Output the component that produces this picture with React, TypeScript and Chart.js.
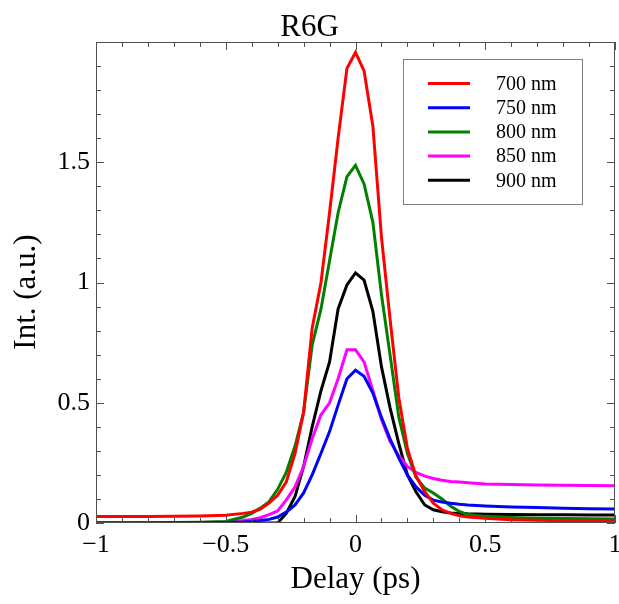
import { useEffect, useRef } from "react";
import { Chart, registerables } from "chart.js";

Chart.register(...registerables);

// Delay axis (ps)
const DELAY = [
  -1, -0.9, -0.8, -0.7, -0.6, -0.5,
  -0.433, -0.4, -0.367, -0.333, -0.3, -0.267, -0.233, -0.2, -0.167, -0.133, -0.1, -0.067, -0.033,
  0,
  0.033, 0.067, 0.1, 0.133, 0.167, 0.2, 0.233, 0.267, 0.3, 0.333, 0.367, 0.4, 0.433,
  0.5, 0.6, 0.7, 0.8, 0.9, 1,
];

const NM700 = [
  0.027, 0.027, 0.027, 0.028, 0.029, 0.032,
  0.04, 0.045, 0.058, 0.083, 0.115, 0.17, 0.29, 0.46, 0.81, 1.0, 1.29, 1.6, 1.89,
  1.957,
  1.88, 1.65, 1.19, 0.85, 0.52, 0.31, 0.195, 0.13, 0.082, 0.055, 0.04, 0.03, 0.025,
  0.02, 0.014, 0.011, 0.009, 0.008, 0.007,
];

const NM750 = [
  0, 0, 0, 0.001, 0.001, 0.002,
  0.004, 0.006, 0.01, 0.015, 0.025, 0.045, 0.075, 0.125, 0.2, 0.29, 0.38, 0.49, 0.6,
  0.635,
  0.61, 0.54, 0.44, 0.35, 0.27, 0.2, 0.15, 0.115, 0.095, 0.087, 0.082, 0.078, 0.075,
  0.071, 0.067, 0.064, 0.061, 0.059, 0.058,
];

const NM800 = [
  0, 0, 0.001, 0.002, 0.003, 0.006,
  0.025, 0.04, 0.062, 0.089, 0.14, 0.21, 0.32, 0.46, 0.74, 0.89, 1.09, 1.29, 1.44,
  1.487,
  1.41, 1.25, 0.95, 0.7, 0.44, 0.29, 0.19, 0.145, 0.125, 0.1, 0.07, 0.048, 0.035,
  0.027, 0.023, 0.02, 0.019, 0.018, 0.017,
];

const NM850 = [
  0, 0, 0, 0.001, 0.002, 0.004,
  0.01, 0.015, 0.022, 0.035, 0.05, 0.095, 0.15, 0.235, 0.35, 0.45, 0.5, 0.6, 0.72,
  0.72,
  0.67, 0.55, 0.43, 0.34, 0.28, 0.235, 0.21, 0.195, 0.185, 0.178, 0.173, 0.17, 0.167,
  0.162, 0.16, 0.158, 0.157, 0.156, 0.155,
];

const NM900 = [
  0, 0, 0, 0, 0, 0,
  0, 0, 0, 0, 0, 0.04, 0.11, 0.235, 0.4, 0.55, 0.67, 0.89, 0.99,
  1.04,
  1.01, 0.88, 0.65, 0.48, 0.33, 0.2, 0.13, 0.075, 0.055, 0.047, 0.042, 0.04, 0.038,
  0.036, 0.035, 0.034, 0.034, 0.033, 0.033,
];

const SERIES_LABELS = ["700 nm", "750 nm", "800 nm", "850 nm", "900 nm"];
const SERIES_COLORS = ["#ff0000", "#0000ff", "#008000", "#ff00ff", "#000000"];
const SERIES_VALUES = [NM700, NM750, NM800, NM850, NM900];

const X_TICKS = [-1, -0.5, 0, 0.5, 1];
const Y_TICKS = [0, 0.5, 1, 1.5];
const X_RANGE = [-1, 1];
const Y_RANGE = [0, 2];
const MINOR_STEP = 0.1;

const TITLE = "R6G";
const X_TITLE = "Delay (ps)";
const Y_TITLE = "Int. (a.u.)";

const FONT = "'Liberation Serif', 'Times New Roman', serif";

const fmt = (v: number) => (v < 0 ? "\u2212" + String(Math.abs(v)) : String(v));

const decorPlugin = {
  id: "decor",
  afterDraw(chart: any) {
    const ctx = chart.ctx as CanvasRenderingContext2D;
    const { left, right, top, bottom } = chart.chartArea;
    const xs = chart.scales.x;
    const ys = chart.scales.y;
    ctx.save();
    // frame
    ctx.strokeStyle = "#505050";
    ctx.lineWidth = 1;
    ctx.strokeRect(left + 0.5, top + 0.5, right - left - 1, bottom - top - 1);
    // inward ticks on all four sides
    const MAJ = 8;
    const MIN = 5;
    const isMajor = (v: number, arr: number[]) => arr.some((t) => Math.abs(t - v) < 1e-6);
    ctx.beginPath();
    const nx = Math.round((X_RANGE[1] - X_RANGE[0]) / MINOR_STEP);
    for (let i = 0; i <= nx; i++) {
      const v = X_RANGE[0] + i * MINOR_STEP;
      const px = Math.round(xs.getPixelForValue(v)) + 0.5;
      const len = isMajor(v, X_TICKS) ? MAJ : MIN;
      ctx.moveTo(px, bottom);
      ctx.lineTo(px, bottom - len);
      ctx.moveTo(px, top);
      ctx.lineTo(px, top + len);
    }
    const ny = Math.round((Y_RANGE[1] - Y_RANGE[0]) / MINOR_STEP);
    for (let i = 0; i <= ny; i++) {
      const v = Y_RANGE[0] + i * MINOR_STEP;
      const py = Math.round(ys.getPixelForValue(v)) + 0.5;
      const len = isMajor(v, Y_TICKS) ? MAJ : MIN;
      ctx.moveTo(left, py);
      ctx.lineTo(left + len, py);
      ctx.moveTo(right, py);
      ctx.lineTo(right - len, py);
    }
    ctx.stroke();

    // titles
    ctx.fillStyle = "#000";
    ctx.textAlign = "center";
    ctx.textBaseline = "middle";
    ctx.font = `31px ${FONT}`;
    ctx.fillText(TITLE, chart.width / 2, 28);
    ctx.fillText(X_TITLE, (left + right) / 2, 580);
    ctx.save();
    ctx.translate(27, 292);
    ctx.rotate(-Math.PI / 2);
    ctx.fillText(Y_TITLE, 0, 0);
    ctx.restore();

    // legend
    const bx = 403, by = 59, bw = 179, bh = 145;
    ctx.fillStyle = "#fff";
    ctx.fillRect(bx, by, bw, bh);
    ctx.strokeStyle = "#808080";
    ctx.lineWidth = 1;
    ctx.strokeRect(bx + 0.5, by + 0.5, bw, bh);
    ctx.font = `20px ${FONT}`;
    ctx.textAlign = "left";
    chart.data.datasets.forEach((ds: any, i: number) => {
      const y = 83.5 + i * 24.2;
      ctx.strokeStyle = ds.borderColor;
      ctx.lineWidth = 3;
      ctx.beginPath();
      ctx.moveTo(428, y);
      ctx.lineTo(470, y);
      ctx.stroke();
      ctx.fillStyle = "#000";
      ctx.fillText(ds.label, 496, y + 1);
    });
    ctx.restore();
  },
};

export default function App() {
  const ref = useRef<HTMLCanvasElement | null>(null);
  useEffect(() => {
    if (!ref.current) return;
    const datasets = SERIES_VALUES.map((vals, i) => ({
      label: SERIES_LABELS[i],
      data: DELAY.map((x, j) => ({ x, y: vals[j] })),
      borderColor: SERIES_COLORS[i],
      backgroundColor: SERIES_COLORS[i],
      borderWidth: 3,
      pointRadius: 0,
      tension: 0,
      fill: false,
    }));
    const chart = new Chart(ref.current, {
      type: "line",
      data: { datasets },
      plugins: [decorPlugin],
      options: {
        responsive: false,
        animation: false,
        layout: { padding: { top: 42, right: 4, left: 0, bottom: 0 } },
        plugins: { legend: { display: false }, tooltip: { enabled: false }, title: { display: false } },
        scales: {
          x: {
            type: "linear",
            min: X_RANGE[0],
            max: X_RANGE[1],
            grid: { display: false, drawTicks: false },
            border: { display: false },
            afterBuildTicks: (scale: any) => {
              scale.ticks = X_TICKS.map((v) => ({ value: v }));
            },
            afterFit: (scale: any) => {
              scale.height = 81;
              scale.paddingLeft = 0;
              scale.paddingRight = 0;
            },
            ticks: {
              autoSkip: false,
              maxRotation: 0,
              padding: 7,
              color: "#000",
              font: { family: FONT, size: 26 },
              callback: (v: any) => fmt(Number(v)),
            },
          },
          y: {
            type: "linear",
            min: Y_RANGE[0],
            max: Y_RANGE[1],
            grid: { display: false, drawTicks: false },
            border: { display: false },
            afterBuildTicks: (scale: any) => {
              scale.ticks = Y_TICKS.map((v) => ({ value: v }));
            },
            afterFit: (scale: any) => {
              scale.width = 96;
              scale.paddingTop = 0;
              scale.paddingBottom = 0;
            },
            ticks: {
              autoSkip: false,
              padding: 6,
              color: "#000",
              font: { family: FONT, size: 26 },
              callback: (v: any) => fmt(Number(v)),
            },
          },
        },
      },
    });
    return () => chart.destroy();
  }, []);
  return (
    <div style={{ position: "fixed", left: 0, top: 0, width: 619, height: 604, background: "#fff" }}>
      <canvas ref={ref} width={619} height={604} style={{ display: "block" }} />
    </div>
  );
}
